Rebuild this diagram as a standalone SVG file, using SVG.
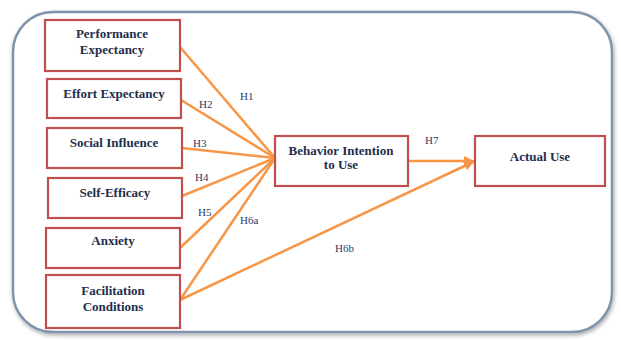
<svg xmlns="http://www.w3.org/2000/svg" width="621" height="340" viewBox="0 0 621 340">
<defs>
<style>
.box{fill:#ffffff;stroke:#c0504d;stroke-width:2.2}
.t{font-family:'Liberation Serif','DejaVu Serif',serif;font-size:13px;font-weight:bold;fill:#1f2d4d;text-anchor:middle}
.h{font-family:'Liberation Serif','DejaVu Serif',serif;font-size:11px;fill:#2b3a66}
.c{stroke:#f79646;stroke-width:2.5;fill:none;stroke-linecap:round}
</style>
<marker id="ah" viewBox="0 0 10 10" refX="9" refY="5" markerWidth="4" markerHeight="4" orient="auto" markerUnits="strokeWidth">
<path d="M0,0 L10,5 L0,10 z" fill="#f79646"/>
</marker>
<filter id="sh" x="-5%" y="-5%" width="110%" height="110%">
<feGaussianBlur in="SourceAlpha" stdDeviation="2"/>
<feOffset dx="1" dy="2"/>
<feComponentTransfer><feFuncA type="linear" slope="0.35"/></feComponentTransfer>
<feMerge><feMergeNode/><feMergeNode in="SourceGraphic"/></feMerge>
</filter>
</defs>
<rect width="621" height="340" fill="#ffffff"/>
<rect id="frame" x="13" y="12" width="599" height="320" rx="40" ry="40" fill="#ffffff" stroke="#7f93ad" stroke-width="2.5" filter="url(#sh)"/>
<g id="connectors">
<line class="c" x1="180" y1="47" x2="275" y2="158"/>
<line class="c" x1="181" y1="100" x2="275" y2="158"/>
<line class="c" x1="182" y1="148" x2="275" y2="158"/>
<line class="c" x1="182" y1="196" x2="275" y2="158"/>
<line class="c" x1="180" y1="248" x2="275" y2="158"/>
<line class="c" x1="180" y1="300" x2="275" y2="158"/>
<line class="c" x1="180" y1="300" x2="473" y2="162" marker-end="url(#ah)"/>
<line class="c" x1="408" y1="161" x2="473" y2="161" marker-end="url(#ah)"/>
<text class="h" x="240" y="100">H1</text>
<text class="h" x="199" y="108">H2</text>
<text class="h" x="193" y="147">H3</text>
<text class="h" x="195" y="181">H4</text>
<text class="h" x="198" y="216">H5</text>
<text class="h" x="240" y="224">H6a</text>
<text class="h" x="335" y="252">H6b</text>
<text class="h" x="425" y="144">H7</text>
</g>
<g id="pe"><rect class="box" x="45" y="20" width="135" height="51"/><text class="t" x="112" y="38">Performance</text><text class="t" x="112" y="54">Expectancy</text></g>
<g id="ee"><rect class="box" x="47" y="79" width="134" height="39"/><text class="t" x="114" y="98">Effort Expectancy</text></g>
<g id="si"><rect class="box" x="47" y="128" width="135" height="40"/><text class="t" x="114" y="147">Social Influence</text></g>
<g id="se"><rect class="box" x="48" y="178" width="134" height="40"/><text class="t" x="115" y="197">Self-Efficacy</text></g>
<g id="ax"><rect class="box" x="46" y="228" width="134" height="40"/><text class="t" x="113" y="245">Anxiety</text></g>
<g id="fc"><rect class="box" x="46" y="275" width="134" height="53"/><text class="t" x="113" y="295">Facilitation</text><text class="t" x="113" y="311">Conditions</text></g>
<g id="bi"><rect class="box" x="275" y="136" width="133" height="50"/><text class="t" x="341" y="155">Behavior Intention</text><text class="t" x="341" y="169">to Use</text></g>
<g id="au"><rect class="box" x="475" y="136" width="130" height="50"/><text class="t" x="540" y="161">Actual Use</text></g>
</svg>
